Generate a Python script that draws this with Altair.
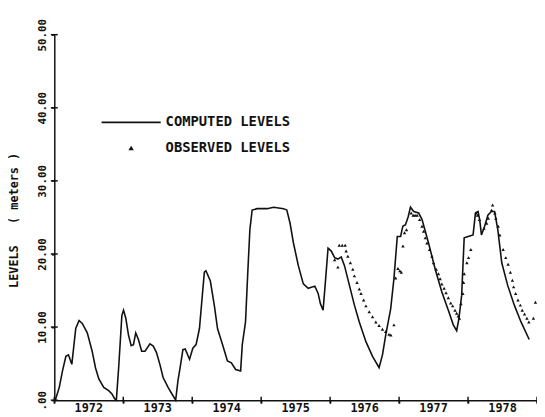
import altair as alt
import pandas as pd

# ---- data ----
comp_year = [1972.014, 1972.072, 1972.119, 1972.168, 1972.205, 1972.254, 1972.311, 1972.359,
             1972.406, 1972.478, 1972.549, 1972.598, 1972.646, 1972.717, 1972.789, 1972.836,
             1972.875, 1972.900, 1972.933, 1972.980, 1973.004, 1973.037, 1973.076, 1973.115,
             1973.148, 1973.181, 1973.220, 1973.267, 1973.316, 1973.387, 1973.435, 1973.482,
             1973.531, 1973.578, 1973.650, 1973.722, 1973.760, 1973.793, 1973.832, 1973.865,
             1973.898, 1973.961, 1974.009, 1974.056, 1974.105, 1974.138, 1974.176, 1974.199,
             1974.263, 1974.320, 1974.367, 1974.439, 1974.511, 1974.568, 1974.630, 1974.702,
             1974.726, 1974.773, 1974.808, 1974.836, 1974.869, 1974.940, 1975.085, 1975.181,
             1975.324, 1975.372, 1975.419, 1975.468, 1975.539, 1975.611, 1975.683, 1975.778,
             1975.826, 1975.859, 1975.898, 1975.935, 1975.970, 1976.017, 1976.065, 1976.113,
             1976.161, 1976.208, 1976.280, 1976.352, 1976.423, 1976.519, 1976.615, 1976.710,
             1976.759, 1976.806, 1976.878, 1976.925, 1976.974, 1977.022, 1977.054, 1977.093,
             1977.132, 1977.165, 1977.212, 1977.284, 1977.333, 1977.427, 1977.524, 1977.620,
             1977.714, 1977.786, 1977.835, 1977.868, 1977.907, 1977.944, 1978.001, 1978.073,
             1978.108, 1978.145, 1978.169, 1978.194, 1978.241, 1978.288, 1978.337, 1978.385,
             1978.432, 1978.489, 1978.575, 1978.671, 1978.768, 1978.887]
comp_level = [0.0, 1.75, 4.0, 6.0, 6.2, 4.9, 9.8, 10.9,
              10.5, 9.2, 6.7, 4.4, 2.9, 1.75, 1.3, 0.85,
              0.2, 0.0, 4.4, 11.6, 12.3, 11.2, 8.9, 7.45,
              7.6, 9.2, 8.3, 6.7, 6.7, 7.7, 7.4, 6.5,
              4.9, 3.1, 1.75, 0.6, 0.0, 2.65, 4.9, 6.9,
              7.0, 5.6, 7.1, 7.6, 9.8, 13.4, 17.5, 17.7,
              16.3, 13.0, 9.8, 7.6, 5.35, 5.1, 4.2, 4.0,
              7.6, 10.7, 17.9, 23.3, 26.0, 26.2, 26.2, 26.4,
              26.2, 26.0, 24.2, 21.5, 18.4, 15.9, 15.3, 15.6,
              14.6, 13.2, 12.3, 16.6, 20.8, 20.4, 19.5, 19.3,
              19.6, 18.4, 15.7, 13.0, 10.7, 8.0, 6.0, 4.45,
              6.2, 8.9, 12.5, 16.6, 22.4, 22.4, 23.8, 24.0,
              25.1, 26.4, 25.8, 25.6, 24.7, 21.5, 17.9, 14.8,
              12.3, 10.3, 9.5, 11.2, 14.3, 22.2, 22.4, 22.6,
              25.6, 25.8, 24.7, 22.6, 23.8, 25.3, 25.8, 25.8,
              23.3, 18.8, 15.7, 13.0, 10.7, 8.3]

obs_year = [1976.065, 1976.113, 1976.132, 1976.175, 1976.218, 1976.232, 1976.257, 1976.294,
            1976.329, 1976.352, 1976.390, 1976.423, 1976.448, 1976.486, 1976.519, 1976.567,
            1976.615, 1976.663, 1976.710, 1976.759, 1976.806, 1976.854, 1976.880, 1976.925,
            1976.950, 1976.983, 1977.011, 1977.032, 1977.056, 1977.079, 1977.108, 1977.175,
            1977.204, 1977.232, 1977.261, 1977.298, 1977.333, 1977.356, 1977.380, 1977.405,
            1977.442, 1977.476, 1977.499, 1977.538, 1977.571, 1977.595, 1977.620, 1977.653,
            1977.681, 1977.714, 1977.749, 1977.777, 1977.811, 1977.835, 1977.858, 1977.875,
            1977.897, 1977.925, 1977.935, 1977.944, 1977.983, 1978.007, 1978.040, 1978.116,
            1978.136, 1978.165, 1978.231, 1978.270, 1978.294, 1978.341, 1978.356, 1978.389,
            1978.403, 1978.438, 1978.461, 1978.509, 1978.547, 1978.581, 1978.614, 1978.643,
            1978.661, 1978.690, 1978.724, 1978.758, 1978.786, 1978.819, 1978.854, 1978.882,
            1978.948, 1978.977]
obs_level = [19.2, 18.2, 21.2, 21.2, 21.2, 20.4, 19.7, 18.8,
             17.9, 17.0, 16.1, 15.2, 14.6, 13.7, 12.9, 12.1,
             11.4, 10.7, 10.2, 9.7, 9.4, 9.0, 8.9, 10.3,
             16.7, 18.0, 17.7, 17.5, 21.1, 22.9, 23.3, 25.6,
             25.3, 25.3, 25.3, 24.7, 23.8, 23.1, 22.2, 21.5,
             20.6, 19.7, 18.8, 17.9, 17.3, 16.6, 15.9, 15.3,
             14.7, 14.0, 13.3, 12.9, 12.3, 11.9, 11.5, 11.2,
             13.2, 14.6, 16.1, 17.3, 18.8, 19.5, 20.6, 25.6,
             25.3, 24.7, 23.5, 24.2, 24.9, 26.0, 26.7, 25.6,
             24.9, 23.8, 22.6, 20.6, 19.5, 18.6, 17.5, 16.4,
             15.5, 14.6, 13.7, 13.0, 12.3, 11.8, 11.2, 10.7,
             11.2, 13.4]

year_ticks = [1972, 1973, 1974, 1975, 1976, 1977, 1978, 1979]
year_labels = ["1972", "1973", "1974", "1975", "1976", "1977", "1978"]
level_ticks = [0, 10, 20, 30, 40, 50]
legend_labels = ["COMPUTED LEVELS", "OBSERVED LEVELS"]
y_title = "LEVELS\u00a0\u00a0\u00a0(\u00a0meters\u00a0)"

FONT = "DejaVu Sans Mono"
INK = "#111111"
WEIGHT = "bold"

comp = pd.DataFrame({"year": comp_year, "level": comp_level})
obs = pd.DataFrame({"year": obs_year, "level": obs_level})
yt = pd.DataFrame({"level": level_ticks})
xt = pd.DataFrame({"year": year_ticks})
yl = pd.DataFrame({"label": year_labels, "year": year_ticks[:-1]})

xscale = alt.Scale(domain=[1972, 1979], nice=False, zero=False)
yscale = alt.Scale(domain=[0, 50], nice=False)

xaxis = alt.Axis(values=year_ticks, title=None, grid=False, labels=False,
                 tickSize=3, domainColor=INK, domainWidth=1.5,
                 tickColor=INK, tickWidth=1.5)
yaxis = alt.Axis(values=level_ticks, title=y_title, grid=False,
                 labelExpr="datum.value == 0 ? '.00' : format(datum.value, '.2f')",
                 labelAngle=270, labelAlign="center", labelBaseline="bottom",
                 labelPadding=4, tickSize=3, labelFont=FONT, labelFontSize=11,
                 labelFontWeight=WEIGHT,
                 labelColor=INK, domainColor=INK, domainWidth=1.5, tickColor=INK,
                 tickWidth=1.5, titleFont=FONT, titleFontSize=12, titleFontWeight=WEIGHT,
                 titleColor=INK, titleAngle=270, titleX=-41, titleY=188,
                 titleAlign="center", titleBaseline="middle")

line = alt.Chart(comp).mark_line(color=INK, strokeWidth=1.6).encode(
    x=alt.X("year:Q", scale=xscale, axis=xaxis),
    y=alt.Y("level:Q", scale=yscale, axis=yaxis),
    order="year:Q",
)
pts = alt.Chart(obs).mark_point(shape="triangle-up", filled=True, color=INK,
                                size=12, opacity=1).encode(
    x=alt.X("year:Q", scale=xscale),
    y=alt.Y("level:Q", scale=yscale),
)
ycross = alt.Chart(yt).mark_tick(orient="horizontal", size=7, thickness=1.5,
                                 color=INK, opacity=1).encode(
    x=alt.value(0), y=alt.Y("level:Q", scale=yscale))
xcross = alt.Chart(xt).mark_tick(orient="vertical", size=7, thickness=1.5,
                                 color=INK, opacity=1).encode(
    x=alt.X("year:Q", scale=xscale), y=alt.value(371))
ylabels = alt.Chart(yl).transform_calculate(mid="datum.year + 0.5").mark_text(
    font=FONT, fontSize=12, fontWeight=WEIGHT, baseline="top", align="center",
    color=INK).encode(
    x=alt.X("mid:Q", scale=xscale), y=alt.value(374), text="label:N")

leg_line = alt.Chart(pd.DataFrame({"k": [0]})).mark_rule(color=INK, strokeWidth=1.6).encode(
    x=alt.value(48), x2=alt.value(108), y=alt.value(89))
leg_tri = alt.Chart(pd.DataFrame({"k": [0]})).mark_point(
    shape="triangle-up", filled=True, color=INK, size=30, opacity=1).encode(
    x=alt.value(78), y=alt.value(115))
leg_t1 = alt.Chart(pd.DataFrame({"k": [0]})).mark_text(
    font=FONT, fontSize=14, fontWeight=WEIGHT, align="left", baseline="middle",
    color=INK).encode(
    x=alt.value(113), y=alt.value(89), text=alt.value(legend_labels[0]))
leg_t2 = alt.Chart(pd.DataFrame({"k": [0]})).mark_text(
    font=FONT, fontSize=14, fontWeight=WEIGHT, align="left", baseline="middle",
    color=INK).encode(
    x=alt.value(113), y=alt.value(115), text=alt.value(legend_labels[1]))

chart = alt.layer(line, pts, ycross, xcross, ylabels,
                  leg_line, leg_tri, leg_t1, leg_t2).properties(
    width=490, height=371,
    autosize=alt.AutoSizeParams(type="none"),
    padding={"left": 47, "top": 24, "right": 0, "bottom": 13},
    background="white",
).configure_view(stroke=None)

chart.save("out.html", embed_options={"renderer": "svg", "actions": False})
